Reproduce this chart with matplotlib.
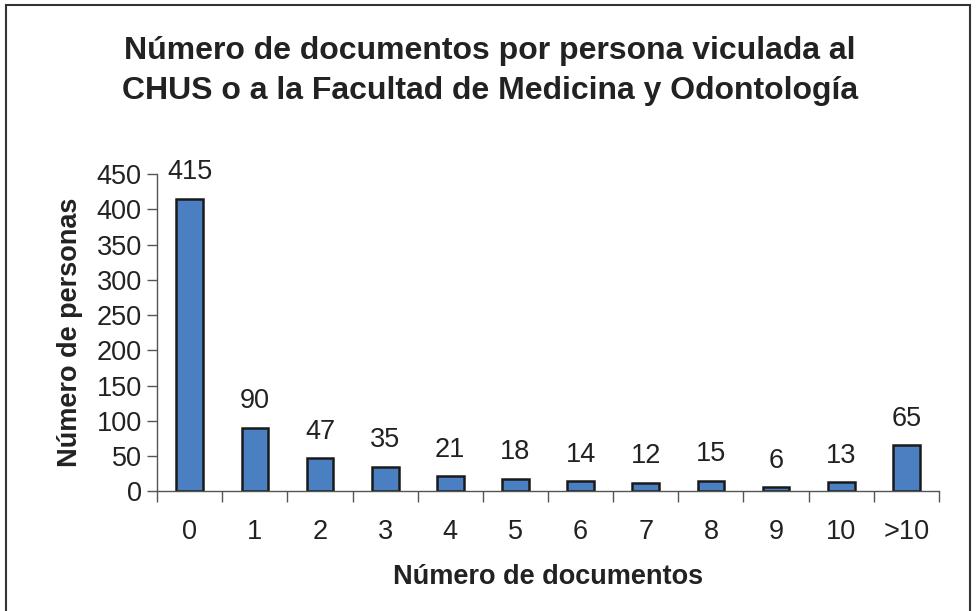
import matplotlib.pyplot as plt
import numpy as np
from matplotlib.patches import Rectangle

plt.rcParams['font.family'] = ['Liberation Sans', 'DejaVu Sans']

categorias = ['0', '1', '2', '3', '4', '5', '6', '7', '8', '9', '10', '>10']
personas = [415, 90, 47, 35, 21, 18, 14, 12, 15, 6, 13, 65]

fig = plt.figure(figsize=(9.76, 6.11), dpi=100)
ax = fig.add_axes([0.161, 0.196, 0.801, 0.519])

x = np.arange(len(categorias))
bars = ax.bar(x, personas, width=0.41, color='#4a7fc1', edgecolor='#1a1a1a', linewidth=1.8)

for xi, v in zip(x, personas):
    ax.text(xi, v + 19, str(v), ha='center', va='bottom', fontsize=19.5, color='#222222')

ax.set_xlim(-0.5, len(categorias) - 0.5)
ax.set_ylim(0, 450)
ax.set_yticks(range(0, 451, 50))
ax.tick_params(axis='y', labelsize=19.5, length=7, width=1, colors='#555555', labelcolor='#222222', pad=4)

# ticks between categories, labels centred under bars
ax.set_xticks(np.arange(-0.5, len(categorias), 1.0))
ax.set_xticklabels([])
ax.set_xticks(x, minor=True)
ax.set_xticklabels(categorias, minor=True, fontsize=19.5, color='#222222')
ax.tick_params(axis='x', which='major', length=8, width=1, colors='#555555')
ax.tick_params(axis='x', which='minor', length=0, pad=20)

for s in ['top', 'right']:
    ax.spines[s].set_visible(False)
for s in ['left', 'bottom']:
    ax.spines[s].set_color('#555555')
    ax.spines[s].set_linewidth(1)

ax.set_xlabel('Número de documentos', fontsize=19.5, fontweight='bold', color='#222222', labelpad=14)
ax.set_ylabel('Número de personas', fontsize=19.5, fontweight='bold', color='#222222', labelpad=10)

fig.text(0.502, 0.884, 'Número de documentos por persona viculada al\nCHUS o a la Facultad de Medicina y Odontología',
         ha='center', va='center', fontsize=23, fontweight='bold', color='#222222', linespacing=1.42)

fig.patches.append(Rectangle((0.006, -0.01), 0.988, 1.002, transform=fig.transFigure,
                             fill=False, edgecolor='#333333', linewidth=1.5))

fig.savefig('out.png', dpi=100)
